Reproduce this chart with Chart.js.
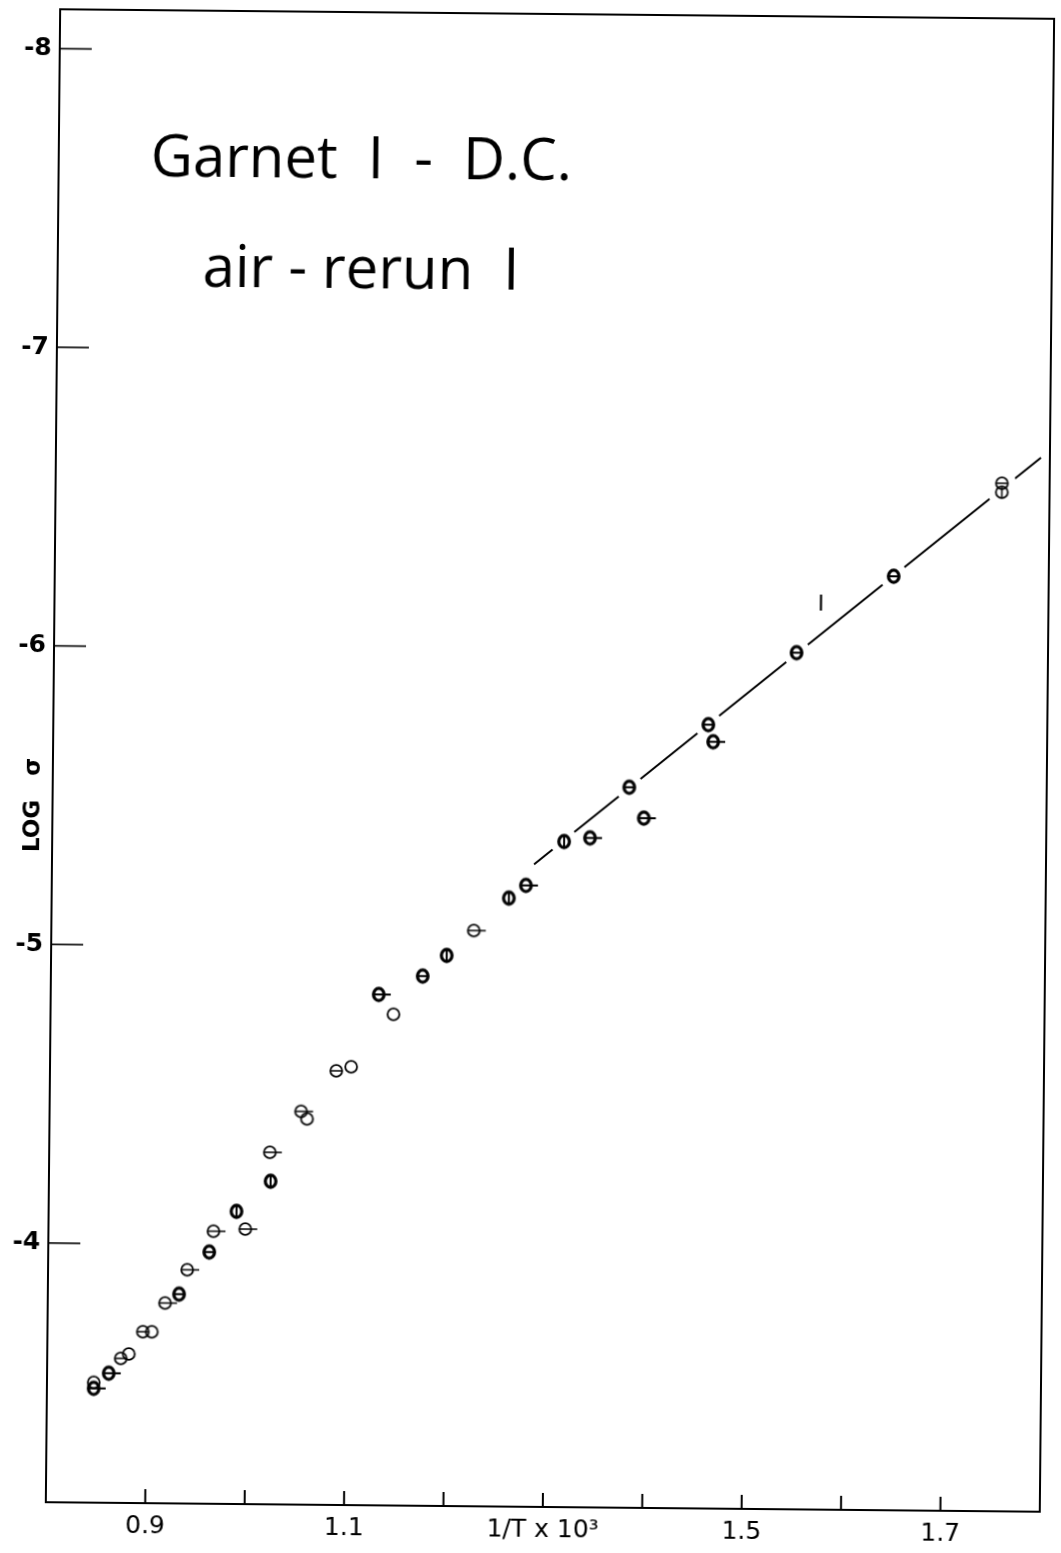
<!DOCTYPE html>
<html>
<head>
<meta charset="utf-8">
<script src="https://cdn.jsdelivr.net/npm/chart.js@4/dist/chart.umd.min.js"></script>
<style>
  html, body { margin: 0; padding: 0; background: #fff; overflow: hidden; }
  #wrap {
    position: absolute; left: 0; top: 0; width: 1061px; height: 1553px;
    transform: rotate(0.55deg); transform-origin: 550px 757px;
  }
</style>
</head>
<body>
<div id="wrap"><canvas id="chart" width="1061" height="1553"></canvas></div>
<script>
/* Garnet I - D.C., air rerun I : log conductivity vs 1/T */

// measured points: 1/T x 10^3, log sigma, marker kind
const invT = [
  0.847, 0.847, 0.862, 0.874, 0.882, 0.896, 0.905, 0.918, 0.932, 0.940,
  0.962, 0.966, 0.989, 0.998, 1.023, 1.022, 1.053, 1.059, 1.088, 1.103,
  1.130, 1.145, 1.174, 1.198, 1.225, 1.260, 1.277, 1.315, 1.341, 1.380,
  1.395, 1.459, 1.464, 1.547, 1.644, 1.752, 1.752
];
const logSigma = [
  -3.515, -3.535, -3.566, -3.616, -3.631, -3.706, -3.706, -3.803, -3.833, -3.915,
  -3.975, -4.045, -4.112, -4.053, -4.214, -4.311, -4.449, -4.424, -4.586, -4.600,
  -4.843, -4.777, -4.906, -4.976, -5.060, -5.170, -5.213, -5.361, -5.374, -5.545,
  -5.442, -5.757, -5.700, -6.001, -6.260, -6.575, -6.545
];
// o: open, ot: open + tail, c: plain circle, ov: open vertical bar
// b: heavy, bt: heavy + tail, bv: heavy vertical bar
const markKind = [
  'bt', 'c', 'bt', 'o', 'c', 'o', 'c', 'ot', 'b', 'ot',
  'b', 'ot', 'bv', 'ot', 'bv', 'ot', 'ot', 'c', 'o', 'c',
  'bt', 'c', 'b', 'bv', 'ot', 'bv', 'bt', 'bv', 'bt', 'b',
  'bt', 'b', 'bt', 'b', 'b', 'o', 'ov'
];

// fitted line (curve I)
const fitInvT = [1.285, 1.791];
const fitLogSigma = [-5.284, -6.662];

const xTicks = [0.9, 1.0, 1.1, 1.2, 1.3, 1.4, 1.5, 1.6, 1.7];
const xTickLabels = ['0.9', '', '1.1', '', '1/T x 10\u00b3', '', '1.5', '', '1.7'];
const yTicks = [-8, -7, -6, -5, -4];

const curveLabel = { text: 'I', x: 1.571, y: -6.161 };

function makeMark(kind) {
  const c = document.createElement('canvas');
  c.width = 36; c.height = 22;
  const g = c.getContext('2d');
  const cx = 18, cy = 11;
  const heavy = kind[0] === 'b';
  g.strokeStyle = '#000';
  g.lineWidth = heavy ? 3.2 : 1.8;
  g.beginPath();
  if (heavy) g.ellipse(cx, cy, 5.3, 6.1, 0, 0, Math.PI * 2);
  else g.ellipse(cx, cy, 5.9, 5.9, 0, 0, Math.PI * 2);
  g.stroke();
  g.lineWidth = heavy ? 2 : 1.5;
  g.beginPath();
  if (kind.includes('v')) {
    g.moveTo(cx, cy - 5.5); g.lineTo(cx, cy + 5.5);
  } else if (kind !== 'c') {
    g.moveTo(cx - 5.5, cy);
    g.lineTo(kind.includes('t') ? cx + 12 : cx + 5.5, cy);
  }
  g.stroke();
  return c;
}

const markImages = {};
['o', 'ot', 'c', 'ov', 'b', 'bt', 'bv'].forEach(k => { markImages[k] = makeMark(k); });

const points = invT.map((x, i) => ({ x, y: logSigma[i] }));
const fitLine = fitInvT.map((x, i) => ({ x, y: fitLogSigma[i] }));

// the drawn line is broken around every point it passes through
const fitSlope = (fitLogSigma[1] - fitLogSigma[0]) / (fitInvT[1] - fitInvT[0]);
const gapPoints = points.filter(p =>
  p.x >= fitInvT[0] && p.x <= fitInvT[1] &&
  Math.abs(p.y - (fitLogSigma[0] + fitSlope * (p.x - fitInvT[0]))) < 0.03);

const frame = {
  id: 'frame',
  afterDraw(chart) {
    const { ctx, chartArea: a, scales } = chart;
    ctx.save();
    ctx.strokeStyle = '#000';
    ctx.fillStyle = '#000';

    // top and right edges of the box
    ctx.lineWidth = 2;
    ctx.beginPath();
    ctx.moveTo(a.left, a.top); ctx.lineTo(a.right, a.top); ctx.lineTo(a.right, a.bottom);
    ctx.stroke();

    // tick marks point into the plot
    ctx.lineWidth = 1.6;
    scales.y.ticks.forEach(t => {
      const py = scales.y.getPixelForValue(t.value);
      ctx.beginPath(); ctx.moveTo(a.left, py); ctx.lineTo(a.left + 32, py); ctx.stroke();
    });
    ctx.lineWidth = 2;
    scales.x.ticks.forEach(t => {
      const px = scales.x.getPixelForValue(t.value);
      ctx.beginPath(); ctx.moveTo(px, a.bottom); ctx.lineTo(px, a.bottom - 14); ctx.stroke();
    });

    // heading
    ctx.textAlign = 'left';
    ctx.textBaseline = 'alphabetic';
    ctx.font = '58px "Open Sans", "DejaVu Sans", sans-serif';
    ctx.fillText('Garnet  I  -  D.C.', a.left + 92, a.top + 166);
    ctx.fillText('air - rerun  I', a.left + 145, a.top + 276);

    // curve number
    ctx.font = '22px "DejaVu Sans", sans-serif';
    ctx.textAlign = 'center';
    ctx.textBaseline = 'middle';
    ctx.fillText(curveLabel.text, scales.x.getPixelForValue(curveLabel.x),
      scales.y.getPixelForValue(curveLabel.y));

    // y axis title
    ctx.translate(a.left - 19, a.top + 796);
    ctx.rotate(-Math.PI / 2);
    ctx.font = 'bold 23px "DejaVu Sans", sans-serif';
    ctx.fillText('LOG   \u03c3', 0, 0);
    ctx.restore();
  }
};

Chart.defaults.color = '#000';

new Chart(document.getElementById('chart'), {
  type: 'scatter',
  data: {
    datasets: [
      {
        label: 'log sigma',
        data: points,
        pointStyle: c => markImages[markKind[c.dataIndex]],
        pointRadius: 7,
        order: 0
      },
      {
        label: 'gaps',
        data: gapPoints,
        pointStyle: 'circle',
        pointRadius: 14,
        pointBackgroundColor: '#fff',
        pointBorderWidth: 0,
        order: 1
      },
      {
        label: 'curve I',
        type: 'line',
        data: fitLine,
        borderColor: '#000',
        borderWidth: 2,
        pointRadius: 0,
        showLine: true,
        order: 2
      }
    ]
  },
  options: {
    responsive: false,
    animation: false,
    devicePixelRatio: 1,
    layout: { padding: { top: 10, right: 11, left: 0, bottom: 0 } },
    plugins: { legend: { display: false }, tooltip: { enabled: false } },
    scales: {
      x: {
        type: 'linear',
        min: 0.8,
        max: 1.8,
        afterBuildTicks: s => { s.ticks = xTicks.map(v => ({ value: v })); },
        afterFit: s => { s.height = 46; s.paddingLeft = 0; s.paddingRight = 0; },
        grid: { drawOnChartArea: false, drawTicks: false },
        border: { color: '#000', width: 2 },
        ticks: {
          padding: 8,
          autoSkip: false,
          maxRotation: 0,
          font: { family: 'DejaVu Sans', size: 25 },
          callback: (v, i) => xTickLabels[i]
        }
      },
      y: {
        type: 'linear',
        reverse: true,
        min: -8.132,
        max: -3.132,
        afterBuildTicks: s => { s.ticks = yTicks.map(v => ({ value: v })); },
        afterFit: s => { s.width = 53; s.paddingTop = 0; s.paddingBottom = 0; },
        grid: { drawOnChartArea: false, drawTicks: false },
        border: { color: '#000', width: 2 },
        ticks: {
          padding: 8,
          font: { family: 'DejaVu Sans', size: 25, weight: 'bold' },
          callback: v => String(v)
        }
      }
    }
  },
  plugins: [frame]
});
</script>
</body>
</html>
